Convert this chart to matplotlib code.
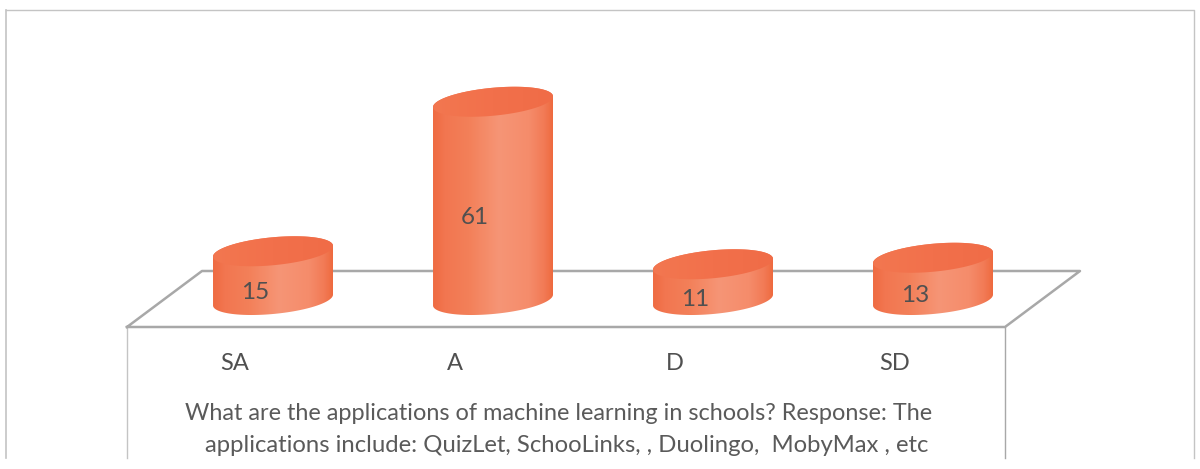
import numpy as np
import matplotlib
matplotlib.use("Agg")
import matplotlib.pyplot as plt
from matplotlib.colors import LinearSegmentedColormap
from matplotlib.patches import Polygon

categories = ["SA", "A", "D", "SD"]
values = [15, 61, 11, 13]
title_lines = ["What are the applications of machine learning in schools? Response: The",
               "applications include: QuizLet, SchooLinks, , Duolingo,  MobyMax , etc"]

W, H = 1200, 469
plt.rcParams["font.family"] = ["Lato", "DejaVu Sans"]
fig = plt.figure(figsize=(W / 100, H / 100), dpi=100, facecolor="white")

# chart frame and 3D floor, in pixel coordinates
bg = fig.add_axes([0, 0, 1, 1])
bg.set_xlim(0, W)
bg.set_ylim(H, 0)
bg.axis("off")
frame_c = "#C4C4C4"
floor_c = "#A8A8A8"
bg.plot([6, 6], [458, 10], color=frame_c, lw=1.2)
bg.plot([6, 1194, 1194], [10, 10, 458], color=frame_c, lw=1.0)
bg.plot([127, 127], [327, 458], color=frame_c, lw=1.0)
bg.plot([1005, 1005], [327, 458], color=floor_c, lw=1.0)
bg.plot([127, 1005, 1080, 202, 127], [327, 327, 271, 271, 327], color=floor_c, lw=1.8)

# data axes: x = category index, y = value
PX_X = 220.0   # pixels per category
PX_Y = 3.25    # pixels per unit
X0, Y0 = 273, 300
ax = fig.add_axes([0, 0, 1, 1])
ax.set_xlim(-X0 / PX_X, (W - X0) / PX_X)
ax.set_ylim(-(H - Y0) / PX_Y, Y0 / PX_Y)
ax.axis("off")
ax.patch.set_alpha(0)

body_cmap = LinearSegmentedColormap.from_list("body", [
    (0.00, "#EF6B42"), (0.10, "#F27650"), (0.30, "#F38059"),
    (0.55, "#F69576"), (0.80, "#F58C6B"), (0.93, "#F27A55"), (1.00, "#EE6A3F")])
top_cmap = LinearSegmentedColormap.from_list("top", ["#F37750", "#F2704B", "#F06C47"])
grad = np.linspace(0, 1, 256).reshape(1, -1)

A_PX, B_PX, K = 60.0, 14.0, 0.09
a = A_PX / PX_X
t = np.linspace(0, 2 * np.pi, 181)


def ellipse(cx, cy):
    dx = np.cos(t)
    return (cx + a * dx, cy + (K * A_PX * dx + B_PX * np.sin(t)) / PX_Y)


for i, v in enumerate(values):
    xb, yb = ellipse(i, 0)
    xt, yt = ellipse(i, v)
    lower = np.sin(t) <= 0
    order = np.argsort(xb[lower])
    bx, by = xb[lower][order], yb[lower][order]
    upper = np.sin(t) >= 0
    order2 = np.argsort(-xt[upper])
    tx, ty = xt[upper][order2], yt[upper][order2]
    body = Polygon(np.column_stack([np.r_[bx, tx], np.r_[by, ty]]),
                   closed=True, transform=ax.transData, fc="none", ec="none")
    ax.add_patch(body)
    im = ax.imshow(grad, cmap=body_cmap, aspect="auto", zorder=2,
                   extent=(i - a, i + a, -20, v + 20))
    im.set_clip_path(body)
    top = Polygon(np.column_stack(ellipse(i, v)), closed=True,
                  transform=ax.transData, fc="none", ec="none")
    ax.add_patch(top)
    im2 = ax.imshow(grad, cmap=top_cmap, aspect="auto", zorder=3,
                    extent=(i - a, i + a, -20, v + 20))
    im2.set_clip_path(top)
    ax.annotate(str(v), xy=(i, v / 2), xytext=(-18 * 0.72, -17 * 0.72),
                textcoords="offset points", ha="center", va="center",
                fontsize=17.5, color="#505050", zorder=5)
    ax.annotate(categories[i], xy=(i, (Y0 - 363) / PX_Y), xytext=(-38 * 0.72, 0),
                textcoords="offset points", ha="center", va="center",
                fontsize=17, color="#505050", zorder=5)

ax.set_xlim(-X0 / PX_X, (W - X0) / PX_X)
ax.set_ylim(-(H - Y0) / PX_Y, Y0 / PX_Y)

bg.text(559, 413, title_lines[0], ha="center", va="center", fontsize=16.9, color="#5A5A5A")
bg.text(567, 446, title_lines[1], ha="center", va="center", fontsize=17.2, color="#5A5A5A")

fig.savefig("out.png", dpi=100, facecolor="white")
